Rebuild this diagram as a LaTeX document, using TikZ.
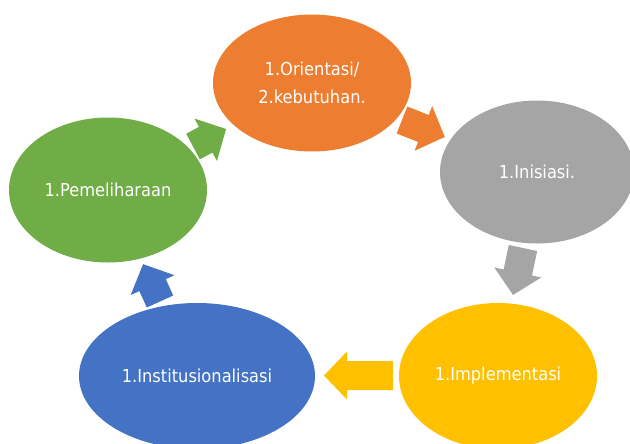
\documentclass[tikz,border=0pt]{standalone}
\usepackage{fontspec}
\setmainfont{DejaVu Sans}[FakeStretch=0.91]
\usetikzlibrary{shapes.geometric}
\definecolor{orangeA}{HTML}{ED7D31}
\definecolor{greyA}{HTML}{A5A5A5}
\definecolor{goldA}{HTML}{FFC000}
\definecolor{blueA}{HTML}{4472C4}
\definecolor{greenA}{HTML}{70AD47}
\def\px{0.75pt}
\tikzset{
  phase/.style={ellipse,inner sep=0pt,text=white,align=center,font=\fontsize{13.4}{21}\selectfont},
  pics/blockarrow/.style={code={
    \fill (0,14.5) -- (#1-23,14.5) -- (#1-23,24) -- (#1,0) -- (#1-23,-24) -- (#1-23,-14.5) -- (0,-14.5) -- cycle;
  }}
}
\begin{document}
\begin{tikzpicture}[x=0.75pt,y=-0.75pt]
  \useasboundingbox[fill=white] (0,0) rectangle (630,443);

  \node[phase,fill=orangeA,minimum width=198*\px,minimum height=137*\px] (orient) at (312,83) {1.Orientasi/\\2.kebutuhan.};
  \node[phase,fill=greyA,minimum width=194*\px,minimum height=143*\px] (inis) at (537,172) {1.Inisiasi.};
  \node[phase,fill=goldA,minimum width=198*\px,minimum height=146*\px] (impl) at (498,376) {1.Implementasi};
  \node[phase,fill=blueA,minimum width=236*\px,minimum height=146*\px] (inst) at (197,376) {1.Institusionalisasi};
  \node[phase,fill=greenA,minimum width=198*\px,minimum height=145*\px] (pemel) at (108,190) {1.Pemeliharaan};

  % block arrows, tail point + angle
  \pic[fill=orangeA,rotate=-21.6] at (402,120) {blockarrow=46};
  \pic[fill=greyA,rotate=-102] at (523,248) {blockarrow=48};
  \pic[fill=goldA,rotate=180] at (393,375.5) {blockarrow=69};
  \pic[fill=blueA,rotate=114.4] at (160,301.5) {blockarrow=41};
  \pic[fill=greenA,rotate=27.9] at (193,146.5) {blockarrow=37.4};
\end{tikzpicture}
\end{document}
